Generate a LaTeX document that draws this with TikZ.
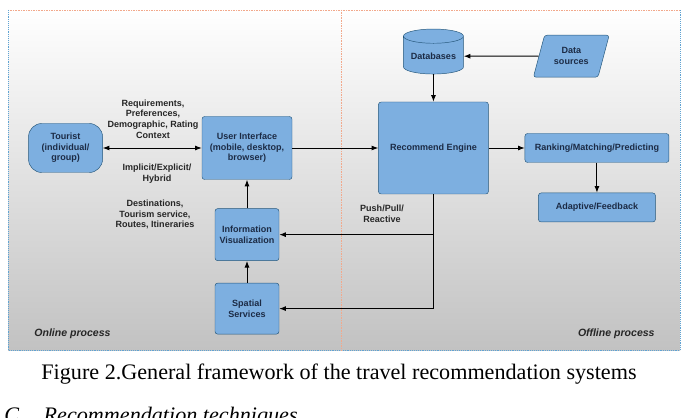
\documentclass[tikz,border=0pt]{standalone}
\usepackage{fontspec}
\setmainfont{Liberation Sans}
\newfontfamily\capfont{Liberation Serif}
\usepackage{xcolor}
\usetikzlibrary{arrows.meta,positioning,shapes.geometric}
\definecolor{azulcaixa}{HTML}{7DAFE0}
\definecolor{azulborda}{HTML}{24567A}
\definecolor{azultexto}{HTML}{1C2B45}
\definecolor{pontolaranja}{HTML}{F2A98C}
\definecolor{pontoazul}{HTML}{5FA3D3}

\begin{document}
\begin{tikzpicture}[x=0.3mm, y=-0.3mm,
    every node/.style={font=\bfseries\fontsize{7.7}{9}\selectfont, align=center, inner sep=1pt},
    caixa/.style={draw=azulborda, fill=azulcaixa, text=azultexto, rounded corners=0.8mm},
    turista/.style={caixa, rounded corners=4mm, minimum width=22.2mm, minimum height=14.7mm},
    cilindro/.style={draw=azulborda, fill=azulcaixa, text=azultexto, shape=cylinder, shape border rotate=90, aspect=0.3, minimum width=18mm, minimum height=13.5mm},
    fonte/.style={caixa, shape=trapezium, trapezium left angle=68, trapezium right angle=112, trapezium stretches=true, minimum width=22.8mm, minimum height=12.6mm},
    rotulo/.style={text=black!85},
    processo/.style={font=\bfseries\itshape\fontsize{9}{11}\selectfont, text=black!85},
    seta/.style={-{Latex[length=2mm]}, thick}]
    \useasboundingbox (0,0) rectangle (688,418);
    \clip (0,0) rectangle (688,418);
    % fundo e molduras
    \shade[top color=white, bottom color=black!24] (8,10) rectangle (680,350);
    \draw[pontolaranja, densely dotted] (8,10) -- (680,10);
    \draw[pontoazul, densely dotted, line width=0.6pt] (8,10) -- (8,350) -- (680,350) -- (680,10);
    \draw[pontolaranja, densely dotted] (341,10) -- (341,350);

    \node[caixa, minimum width=27mm, minimum height=18.9mm] (ui) at (247,148) {User Interface\\(mobile, desktop,\\browser)};
    \node[turista, left=29.7mm of ui] (tourist) {Tourist\\(individual/\\group)};
    \node[caixa, below=8.6mm of ui, minimum width=19.2mm, minimum height=15.6mm] (infovis) {Information\\Visualization};
    \node[caixa, below=6.6mm of infovis, minimum width=19.2mm, minimum height=15.3mm] (spatial) {Spatial\\Services};
    \node[caixa, right=25.8mm of ui, minimum width=33mm, minimum height=27.6mm] (engine) {Recommend Engine};
    \node[cilindro, above=8.25mm of engine] (db) {Databases};
    \node[fonte, right=22.5mm of db] (sources) {Data\\sources};
    \node[caixa, right=10.8mm of engine, minimum width=43.2mm, minimum height=8.7mm] (rank) {Ranking/Matching/Predicting};
    \node[caixa, below=9mm of rank, minimum width=35.1mm, minimum height=8.7mm] (adapt) {Adaptive/Feedback};

    \node[rotulo] (reqs) at (153,119) {Requirements,\\Preferences,\\Demographic, Rating\\Context};
    \node[rotulo] (implicit) at (157,173.5) {Implicit/Explicit/\\Hybrid};
    \node[rotulo] (dest) at (155,214.5) {Destinations,\\Tourism service,\\Routes, Itineraries};
    \node[rotulo] (push) at (382,214) {Push/Pull/\\Reactive};
    \node[processo, anchor=west] (online) at (33,334) {Online process};
    \node[processo, anchor=east] (offline) at (656,334) {Offline process};

    \draw[{Latex[length=2mm]}-{Latex[length=2mm]}, thick] (tourist) -- (ui);
    \draw[seta] (ui) -- (engine);
    \draw[seta] (sources) -- (db);
    \draw[seta] (db) -- (engine);
    \draw[seta] (engine) -- (rank);
    \draw[seta] (rank) -- (adapt);
    \draw[seta] (infovis) -- (ui);
    \draw[seta] (spatial) -- (infovis);
    \draw[seta] (engine.south) |- (spatial);
    \draw[seta] (engine.south |- infovis) -- (infovis);

    \node[font=\capfont\fontsize{18.9}{22}\selectfont, anchor=base] (caption) at (339,380) {Figure 2.General framework of the travel recommendation systems};
    \node[font=\capfont\itshape\fontsize{18.9}{22}\selectfont, anchor=base west] (heading) at (3,422) {C.\hspace{5.7mm}Recommendation techniques};
  \end{tikzpicture}
\end{document}
